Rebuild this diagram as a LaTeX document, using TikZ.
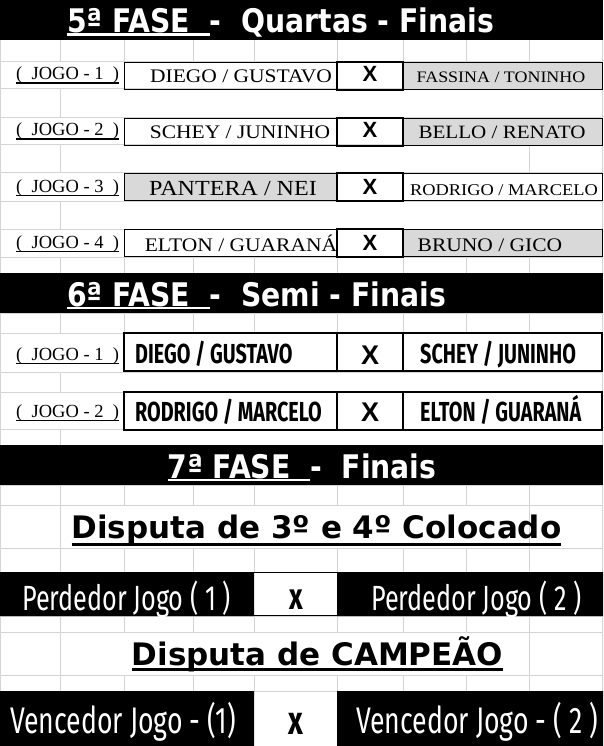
\documentclass[tikz,border=0pt]{standalone}
\usepackage{fontspec}
\setmainfont{Liberation Serif}
\newfontfamily\headfont[FakeStretch=0.87]{DejaVu Sans}
\newfontfamily\dispfont{DejaVu Sans}
\newfontfamily\condfont[FakeStretch=0.72]{Fira Sans}
\newfontfamily\namefont[FakeStretch=1.12]{Liberation Serif}
\newfontfamily\xfont{Liberation Sans}
\definecolor{gridgray}{HTML}{D4D4D4}
\definecolor{losegray}{HTML}{D9D9D9}

% underline: [thickness]{depth}{text}
\newsavebox{\ulbox}
\newcommand{\undline}[3][2pt]{\sbox{\ulbox}{#3}\rlap{\rule[-#2]{\wd\ulbox}{#1}}\usebox{\ulbox}}

\begin{document}
\begin{tikzpicture}[x=1pt,y=-1pt,
  grid/.style={draw=gridgray, line width=1pt},
  title/.style={text=white, inner sep=0, font=\headfont\bfseries\fontsize{32.5}{36}\selectfont},
  disp/.style={inner sep=0, anchor=base, font=\dispfont\bfseries\fontsize{31}{36}\selectfont},
  jogo/.style={inner sep=0, anchor=base west, font=\fontsize{18.5}{20}\selectfont},
  qname/.style={inner sep=0, anchor=base, font=\namefont\fontsize{#1}{20}\selectfont},
  qx/.style={inner sep=0, anchor=base, font=\xfont\bfseries\fontsize{22}{24}\selectfont},
  sname/.style={inner sep=0, anchor=base west, font=\condfont\bfseries\fontsize{27.5}{30}\selectfont},
  sx/.style={inner sep=0, anchor=base, font=\xfont\bfseries\fontsize{27}{28}\selectfont},
  fin/.style={text=white, inner sep=0, anchor=base west, font=\condfont\fontsize{#1}{40}\selectfont},
  finx/.style={inner sep=0, anchor=base, font=\condfont\bfseries\fontsize{#1}{40}\selectfont}]

\useasboundingbox (0,0) rectangle (603,746);
\fill[white] (0,0) rectangle (603,746);

% sheet grid
\foreach \y in {40,62,89,118,145,173,201,229,257,273,313,333,372,392,429,445,485,505,548,572,616,632,675,691}
  \draw[grid] (0,\y) -- (603,\y);
\foreach \a/\b in {40/62,257/273,313/333,485/505,548/572,616/632,675/691}
  \foreach \x in {60,124,193,254,337,403,466,529}
    \draw[grid] (\x,\a) -- (\x,\b);
\foreach \a/\b in {89/118,201/229,372/392,429/445}
  \draw[grid] (60,\a) -- (60,\b);
\foreach \a/\b in {145/173,505/548,632/675}
  \draw[grid] (60,\a) -- (60,\b) (529,\a) -- (529,\b);
\draw[grid] (0.5,0) -- (0.5,746) (602.5,0) -- (602.5,746);

% black bands
\fill (0,0) rectangle (603,40);
\fill (0,273) rectangle (603,313);
\fill (0,445) rectangle (603,485);
\fill (0,572) rectangle (254,616) (337,572) rectangle (603,616);
\fill (0,691) rectangle (254,746) (337,691) rectangle (603,746);
\draw[line width=1pt] (254,572.5) -- (337,572.5) (254,615.5) -- (337,615.5);

% quartas
\node[title, anchor=base west] (fase5) at (67,33) {\undline[2.5pt]{3pt}{5ª FASE\ \ }-\ \ Quartas - Finais};

\fill[losegray] (403,62) rectangle (602,89);
\fill[losegray] (403,118) rectangle (602,145);
\fill[losegray] (124,173) rectangle (337,201);
\fill[losegray] (403,229) rectangle (602,257);
\foreach \y in {62,118,173,229}{
  \draw[line width=1pt] (124.5,\y+0.5) rectangle (602.5,\y+27.5);
  \draw[line width=2pt] (337,\y) rectangle (403,\y+28);
}

\node[jogo] (qj_1) at (16,80) {\undline[1.5pt]{4pt}{(\ \ JOGO - 1\ \ )}};
\node[qname=19.2] (q1_a) at (241,83) {DIEGO / GUSTAVO};
\node[qx] (q1_x) at (370,82) {X};
\node[qname=16] (q1_b) at (501,83) {FASSINA / TONINHO};

\node[jogo] (qj_2) at (16,136) {\undline[1.5pt]{4pt}{(\ \ JOGO - 2\ \ )}};
\node[qname=19.2] (q2_a) at (240,139) {SCHEY / JUNINHO};
\node[qx] (q2_x) at (370,138) {X};
\node[qname=18.8] (q2_b) at (502,139) {BELLO / RENATO};

\node[jogo] (qj_3) at (16,192) {\undline[1.5pt]{4pt}{(\ \ JOGO - 3\ \ )}};
\node[qname=21.5] (q3_a) at (233,195) {PANTERA / NEI};
\node[qx] (q3_x) at (370,194) {X};
\node[qname=16.4] (q3_b) at (504,195) {RODRIGO / MARCELO};

\node[jogo] (qj_4) at (16,248) {\undline[1.5pt]{4pt}{(\ \ JOGO - 4\ \ )}};
\node[qname=19.2] (q4_a) at (241,251) {ELTON / GUARANÁ};
\node[qx] (q4_x) at (370,250) {X};
\node[qname=19.2] (q4_b) at (490,251) {BRUNO / GICO};

% semi
\node[title, anchor=base west] (fase6) at (67,306) {\undline[2.5pt]{3pt}{6ª FASE\ \ }-\ \ Semi - Finais};

\foreach \y in {333,392}
  \draw[line width=2pt] (124,\y) rectangle (602,\y+38) (337,\y) -- (337,\y+38) (403,\y) -- (403,\y+38);

\node[jogo] (sj_1) at (16,360) {\undline[1.5pt]{4pt}{(\ \ JOGO - 1\ \ )}};
\node[sname] (s1_a) at (135,363) {DIEGO / GUSTAVO};
\node[sx] (s1_x) at (370,364) {X};
\node[sname] (s1_b) at (420,363) {SCHEY / JUNINHO};

\node[jogo] (sj_2) at (16,417) {\undline[1.5pt]{4pt}{(\ \ JOGO - 2\ \ )}};
\node[sname] (s2_a) at (135,421) {RODRIGO / MARCELO};
\node[sx] (s2_x) at (370,421) {X};
\node[sname] (s2_b) at (420,421) {ELTON / GUARANÁ};

% finais
\node[title, anchor=base] (fase7) at (302,478) {\undline[2.5pt]{3pt}{7ª FASE\ \ }-\ \ Finais};

\node[disp] (terceiro) at (316.5,538.5) {\undline[3pt]{7pt}{Disputa de 3º e 4º Colocado}};
\node[fin=35] (p_1) at (22,610) {Perdedor Jogo ( 1 )};
\node[finx=37] (p_x) at (296,609) {x};
\node[fin=35] (p_2) at (371,610) {Perdedor Jogo ( 2 )};

\node[disp] (campeao) at (317.5,665) {\undline[3pt]{6pt}{Disputa de CAMPEÃO}};
\node[fin=37] (v_1) at (10,733) {Vencedor Jogo - (1)};
\node[finx=40] (v_x) at (296,734) {x};
\node[fin=37] (v_2) at (356,733) {Vencedor Jogo - ( 2 )};
\end{tikzpicture}
\end{document}
